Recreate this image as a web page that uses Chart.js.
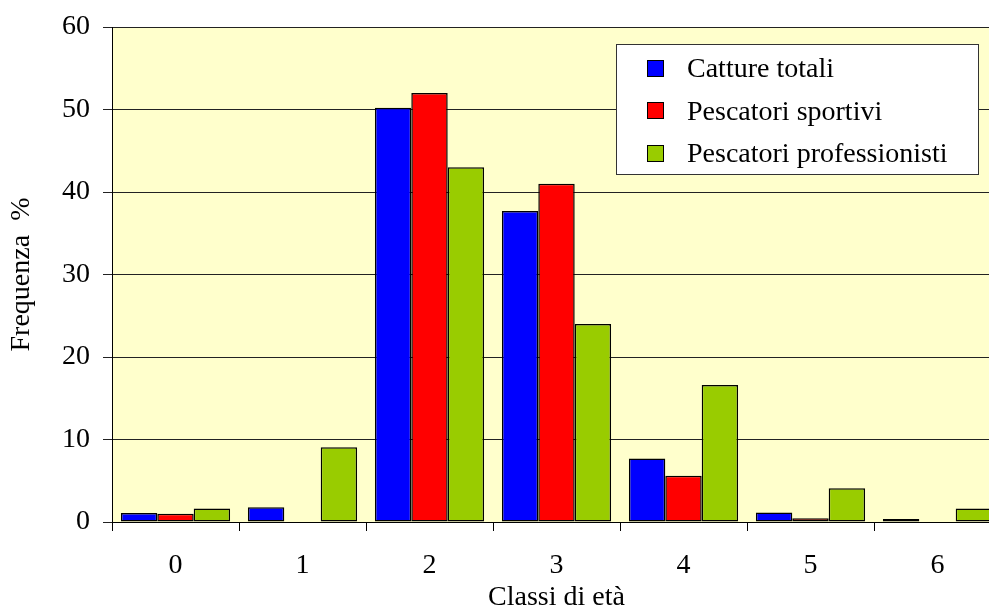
<!DOCTYPE html>
<html lang="it">
<head>
<meta charset="utf-8">
<title>Classi di età</title>
<script src="https://cdn.jsdelivr.net/npm/chart.js@4/dist/chart.umd.min.js"></script>
<style>
  html, body { margin: 0; padding: 0; background: #ffffff; overflow: hidden; }
  #wrap { position: absolute; left: 0; top: 0; width: 1010px; height: 608px; }
</style>
</head>
<body>
<div id="wrap"><canvas id="chart" width="1010" height="608"></canvas></div>
<script>
  'use strict';

  const ageClasses = ['0', '1', '2', '3', '4', '5', '6'];
  const totalCatch = [1.1, 1.8, 50.2, 37.7, 7.7, 1.15, 0.35];
  const sportFishers = [1.0, 0, 52.0, 41.0, 5.6, 0.45, 0];
  const proFishers = [1.65, 9.05, 43.0, 24.0, 16.6, 4.1, 1.65];
  const yTicks = [0, 10, 20, 30, 40, 50, 60];

  const FONT = '"Liberation Serif", "Times New Roman", serif';
  const FONT_SIZE = 28;

  // yellow plot background behind the bars
  const plotBackground = {
    id: 'plotBackground',
    beforeDraw(chart) {
      const a = chart.chartArea;
      const ctx = chart.ctx;
      ctx.save();
      ctx.fillStyle = '#ffffcc';
      ctx.fillRect(a.left, a.top, a.right - a.left, a.bottom - a.top);
      ctx.restore();
    }
  };

  // boxed legend in the upper right of the plot
  const boxLegend = {
    id: 'boxLegend',
    afterDraw(chart) {
      const ctx = chart.ctx;
      const box = { x: 616.5, y: 44.5, w: 362, h: 130 };
      ctx.save();
      ctx.fillStyle = '#ffffff';
      ctx.fillRect(box.x, box.y, box.w, box.h);
      ctx.strokeStyle = '#333333';
      ctx.lineWidth = 1;
      ctx.strokeRect(box.x, box.y, box.w, box.h);
      ctx.font = FONT_SIZE + 'px ' + FONT;
      ctx.textBaseline = 'alphabetic';
      ctx.textAlign = 'left';
      chart.data.datasets.forEach(function(ds, i) {
        const cy = 68 + i * 42.7;
        const sq = Math.round(cy - 8.5);
        ctx.fillStyle = ds.backgroundColor;
        ctx.fillRect(647, sq, 17, 17);
        ctx.strokeStyle = '#000000';
        ctx.strokeRect(647.5, sq + 0.5, 16, 16);
        ctx.fillStyle = '#000000';
        ctx.fillText(ds.label, 687, cy + 9);
      });
      ctx.restore();
    }
  };

  const ctx = document.getElementById('chart').getContext('2d');

  new Chart(ctx, {
    type: 'bar',
    data: {
      labels: ageClasses,
      datasets: [{
        label: 'Catture totali',
        data: totalCatch,
        backgroundColor: '#0000ff'
      }, {
        label: 'Pescatori sportivi',
        data: sportFishers,
        backgroundColor: '#ff0000'
      }, {
        label: 'Pescatori professionisti',
        data: proFishers,
        backgroundColor: '#99cc00'
      }]
    },
    options: {
      responsive: false,
      animation: false,
      devicePixelRatio: 1,
      layout: {
        padding: { top: 27, right: 9, left: 0, bottom: 0 }
      },
      datasets: {
        bar: {
          borderColor: '#000000',
          borderWidth: 1.5,
          borderSkipped: false,
          barPercentage: 1,
          categoryPercentage: 0.86
        }
      },
      plugins: {
        legend: { display: false },
        tooltip: { enabled: false }
      },
      scales: {
        x: {
          offset: true,
          grid: {
            offset: true,
            drawOnChartArea: false,
            drawTicks: true,
            tickLength: 9,
            color: '#000000'
          },
          border: { color: '#000000', width: 1 },
          ticks: {
            color: '#000000',
            padding: 18,
            font: { family: FONT, size: FONT_SIZE }
          },
          title: {
            display: true,
            text: 'Classi di età',
            color: '#000000',
            padding: { top: 0, bottom: -6 },
            font: { family: FONT, size: FONT_SIZE }
          },
          afterFit(scale) {
            scale.height = 86;
            scale.paddingLeft = 0;
            scale.paddingRight = 0;
          }
        },
        y: {
          min: 0,
          max: 60,
          afterBuildTicks(scale) {
            scale.ticks = yTicks.map(function(v) { return { value: v }; });
          },
          grid: {
            color: '#222222',
            tickLength: 9,
            drawTicks: true
          },
          border: { color: '#000000', width: 1 },
          ticks: {
            color: '#000000',
            padding: 13,
            font: { family: FONT, size: FONT_SIZE }
          },
          title: {
            display: true,
            text: 'Frequenza  %',
            color: '#000000',
            padding: { top: 5, bottom: 0 },
            font: { family: FONT, size: FONT_SIZE }
          },
          afterFit(scale) {
            scale.width = 112;
            scale.paddingTop = 0;
            scale.paddingBottom = 0;
          }
        }
      }
    },
    plugins: [plotBackground, boxLegend]
  });
</script>
</body>
</html>
